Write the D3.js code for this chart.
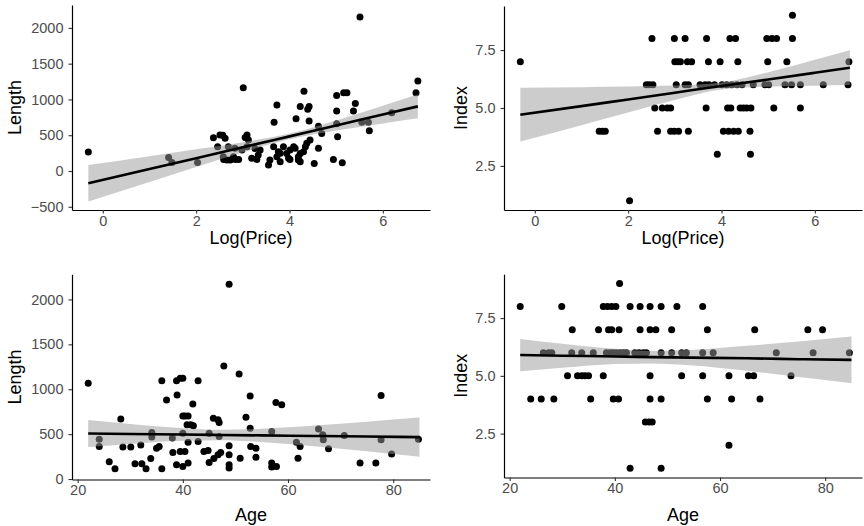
<!DOCTYPE html>
<html>
<head lang="en">
<meta charset="UTF-8">
<title>Length and Index vs Log(Price) and Age</title>
<script src="https://cdnjs.cloudflare.com/ajax/libs/d3/7.8.5/d3.min.js" charset="utf-8"></script>
<style>
  body { margin: 0; background: white; }
  text { font-family: "Liberation Sans", Arial, sans-serif; }
</style>
</head>
<body>
<div id="chart"></div>
<script>

// ---- data ----
var priceLength = [
  [-0.31,264],[1.41,190],[1.48,120],[2.03,120],[2.37,466],[2.46,338],[2.51,503],[2.57,500],
  [2.62,457],[2.58,200],[2.59,162],[2.66,153],[2.69,340],[2.73,154],[2.8,200],[2.83,317],
  [2.84,162],[2.91,162],[2.98,292],[3.01,1162],[3.05,468],[3.09,503],[3.12,433],[3.09,338],
  [3.19,178],[3.3,162],[3.26,315],[3.33,224],[3.37,293],[3.55,84],[3.58,154],[3.66,340],
  [3.67,681],[3.73,923],[3.73,200],[3.76,269],[3.8,247],[3.8,130],[3.87,338],[3.94,245],
  [3.98,178],[4.01,293],[4.01,162],[4.09,338],[4.12,317],[4.14,731],[4.19,200],[4.19,153],
  [4.23,130],[4.23,245],[4.23,903],[4.3,270],[4.31,1116],[4.34,338],[4.37,387],[4.39,862],
  [4.42,903],[4.42,699],[4.44,433],[4.53,106],[4.62,625],[4.62,317],[4.69,523],[4.94,162],
  [5.01,1055],[5.01,838],[5.03,477],[5.01,660],[5.13,116],[5.16,1093],[5.23,1093],[5.37,838],
  [5.41,945],[5.51,2153],[5.55,680],[5.69,680],[5.71,563],[6.19,814],[6.71,1093],[6.75,1257]
];

var priceIndex = [
  [5.52,9],
  [2.51,8],[2.99,8],[3.22,8],[3.68,8],[4.18,8],[4.3,8],[4.97,8],[5.08,8],[5.18,8],[5.52,8],
  [-0.31,7],[3.0,7],[3.06,7],[3.12,7],[3.27,7],[3.36,7],[3.72,7],[3.97,7],[4.35,7],[4.99,7],[5.4,7],[6.73,7],
  [2.39,6],[2.45,6],[2.53,6],[3.03,6],[3.22,6],[3.29,6],[3.54,6],[3.65,6],[3.73,6],[3.85,6],[4.01,6],
  [4.11,6],[4.22,6],[4.33,6],[4.44,6],[4.68,6],[4.93,6],[5.01,6],[5.36,6],[5.5,6],[5.69,6],[6.18,6],[6.71,6],
  [2.57,5],[2.73,5],[2.84,5],[2.91,5],[3.67,5],[4.13,5],[4.2,5],[4.4,5],[4.47,5],[4.54,5],[4.63,5],[5.12,5],[5.69,5],
  [1.38,4],[1.45,4],[1.51,4],[2.63,4],[2.91,4],[2.99,4],[3.08,4],[3.29,4],[4.04,4],[4.15,4],[4.26,4],[4.36,4],[4.61,4],
  [3.91,3],[4.62,3],
  [2.03,1]
];

var ageLength = [
  [22.0,1067],[24.1,444],[24.1,363],[26.0,193],[27.1,115],[28.2,670],[28.6,356],[30.1,356],
  [30.9,170],[32.0,378],[32.2,170],[33.0,115],[33.9,230],[34.1,519],[34.1,467],[35.0,344],
  [35.5,363],[36.0,115],[36.0,1096],[36.9,881],[38.0,456],[38.1,296],[38.8,1096],[38.9,937],
  [38.8,159],[39.5,1122],[39.5,307],[40.0,1122],[40.0,703],[40.4,703],[41.0,703],[40.0,511],
  [40.0,141],[40.4,307],[40.8,604],[41.5,604],[42.0,593],[41.0,411],[41.0,178],[41.9,837],
  [42.9,1096],[42.9,419],[44.0,307],[44.8,319],[45.0,511],[45.0,185],[45.9,230],[45.8,678],
  [46.7,659],[46.9,630],[46.9,474],[46.7,270],[47.2,296],[47.8,1259],[48.8,2170],[48.8,370],
  [48.8,270],[48.8,159],[48.8,122],[50.9,233],[50.7,1170],[52.0,689],[52.8,926],[52.8,567],
  [52.9,363],[53.9,344],[53.9,244],[56.9,530],[56.9,178],[56.9,133],[57.7,852],[58.8,826],
  [57.8,141],[61.6,411],[61.9,233],[62.3,363],[65.8,556],[66.6,493],[66.7,437],[67.7,337],
  [70.7,485],[73.7,178],[76.7,178],[77.7,930],[77.7,437],[79.7,278],[84.8,444]
];

var ageIndex = [
  [40.9,9],
  [22.0,8],[29.9,8],[37.8,8],[38.6,8],[39.4,8],[40.2,8],[42.9,8],[44.8,8],[46.7,8],[48.8,8],[51.8,8],[56.7,8],
  [31.9,7],[36.9,7],[38.8,7],[39.4,7],[40.8,7],[44.8,7],[46.7,7],[47.8,7],[50.8,7],[57.6,7],[66.6,7],[76.7,7],[79.5,7],
  [26.4,6],[27.4,6],[28.0,6],[31.8,6],[33.7,6],[35.9,6],[38.4,6],[39.1,6],[39.7,6],[40.3,6],[41.0,6],[41.6,6],
  [42.2,6],[43.8,6],[44.6,6],[45.4,6],[46.0,6],[48.8,6],[50.8,6],[52.7,6],[53.6,6],[56.7,6],[58.7,6],[70.7,6],[77.7,6],[84.6,6],
  [31.0,5],[32.9,5],[33.7,5],[34.3,5],[35.0,5],[37.8,5],[46.7,5],[52.7,5],[56.7,5],[61.7,5],[65.4,5],[66.4,5],[73.5,5],
  [24.0,4],[26.0,4],[28.4,4],[35.4,4],[39.7,4],[40.7,4],[46.7,4],[48.8,4],[57.6,4],[62.2,4],[67.6,4],
  [45.8,3],[46.5,3],[47.1,3],
  [61.7,2],
  [42.9,1],[48.8,1]
];

// fitted line and confidence band, read at a few x positions
var fitPriceX       = [-0.31, 1, 2, 3, 4, 5, 6, 6.75];
var fitPriceLenMid  = [-171, 27, 179, 332, 484, 636, 789, 903];
var fitPriceLenLo   = [-426, -152, 55, 261, 444, 565, 665, 737];
var fitPriceLenHi   = [84, 206, 303, 403, 524, 707, 913, 1069];
var fitPriceIdxMid  = [4.71, 5.08, 5.37, 5.66, 5.95, 6.23, 6.52, 6.74];
var fitPriceIdxLo   = [3.55, 4.26, 4.81, 5.35, 5.80, 5.92, 5.96, 5.99];
var fitPriceIdxHi   = [5.87, 5.90, 5.93, 5.97, 6.10, 6.54, 7.08, 7.49];

var fitAgeX         = [22, 30, 40, 47, 55, 65, 75, 85];
var fitAgeLenMid    = [507, 502, 496, 491, 486, 480, 474, 467];
var fitAgeLenLo     = [357, 391, 426, 433, 413, 365, 309, 249];
var fitAgeLenHi     = [657, 613, 566, 549, 559, 595, 639, 685];
var fitAgeIdxMid    = [5.90, 5.87, 5.84, 5.81, 5.79, 5.76, 5.72, 5.69];
var fitAgeIdxLo     = [5.20, 5.35, 5.51, 5.54, 5.45, 5.22, 4.95, 4.68];
var fitAgeIdxHi     = [6.60, 6.39, 6.17, 6.08, 6.13, 6.30, 6.49, 6.70];

var priceTicks   = [0, 2, 4, 6];
var ageTicks     = [20, 40, 60, 80];
var lengthTicks1 = [-500, 0, 500, 1000, 1500, 2000];
var lengthTicks2 = [0, 500, 1000, 1500, 2000];
var indexTicks   = [2.5, 5.0, 7.5];

// ---- drawing ----
var svg = d3.select('#chart').append('svg')
    .attr('width', 864).attr('height', 526);

function panel(o) {
    var x = d3.scaleLinear().domain(o.xDomain).range(o.xRange);
    var y = d3.scaleLinear().domain(o.yDomain).range(o.yRange);
    var g = svg.append('g');

    g.selectAll('circle').data(o.points).enter().append('circle')
        .attr('cx', function(d) { return x(d[0]); })
        .attr('cy', function(d) { return y(d[1]); })
        .attr('r', 3.5)
        .attr('fill', '#000');

    var band = o.fitX.map(function(v, i) { return [v, o.lo[i], o.hi[i], o.mid[i]]; });
    g.append('path').datum(band)
        .attr('d', d3.area().curve(d3.curveMonotoneX)
            .x(function(d) { return x(d[0]); })
            .y0(function(d) { return y(d[1]); })
            .y1(function(d) { return y(d[2]); }))
        .attr('fill', '#999').attr('fill-opacity', 0.5);
    g.append('path').datum(band)
        .attr('d', d3.line().curve(d3.curveMonotoneX)
            .x(function(d) { return x(d[0]); })
            .y(function(d) { return y(d[3]); }))
        .attr('fill', 'none').attr('stroke', '#000').attr('stroke-width', 2.6);

    var ax = g.append('g').attr('transform', 'translate(0,' + o.yRange[0] + ')')
        .call(d3.axisBottom(x).tickValues(o.xTicks).tickSize(3.5).tickSizeOuter(0).tickPadding(1.8));
    var ay = g.append('g').attr('transform', 'translate(' + o.xRange[0] + ',0)')
        .call(d3.axisLeft(y).tickValues(o.yTicks).tickFormat(o.yFormat).tickSize(3.5).tickSizeOuter(0).tickPadding(5));
    [ax, ay].forEach(function(a) {
        a.attr('font-size', 14.5).attr('font-family', '"Liberation Sans", Arial, sans-serif');
        a.select('.domain').attr('stroke', '#000').attr('stroke-width', 1.2);
        a.selectAll('.tick line').attr('stroke', '#333').attr('stroke-width', 1.1);
        a.selectAll('.tick text').attr('fill', '#4d4d4d');
    });

    g.append('text')
        .attr('x', (o.xRange[0] + o.xRange[1]) / 2).attr('y', o.xTitleY)
        .attr('text-anchor', 'middle').attr('font-size', 18).attr('fill', '#000')
        .text(o.xTitle);
    g.append('text')
        .attr('transform', 'translate(' + o.yTitleX + ',' + (o.yRange[0] + o.yRange[1]) / 2 + ') rotate(-90)')
        .attr('text-anchor', 'middle').attr('font-size', 18).attr('fill', '#000')
        .text(o.yTitle);
}

var fmtInt = d3.format('d'), fmtIdx = d3.format('.1f');

panel({ points: priceLength, xDomain: [-0.66, 7.01], xRange: [72, 430],
        yDomain: [-545, 2320], yRange: [210, 5],
        xTicks: priceTicks, yTicks: lengthTicks1, yFormat: fmtInt,
        fitX: fitPriceX, mid: fitPriceLenMid, lo: fitPriceLenLo, hi: fitPriceLenHi,
        xTitle: 'Log(Price)', xTitleY: 244, yTitle: 'Length', yTitleX: 21 });

panel({ points: priceIndex, xDomain: [-0.66, 7.01], xRange: [504, 862],
        yDomain: [0.6, 9.4], yRange: [210, 6],
        xTicks: priceTicks, yTicks: indexTicks, yFormat: fmtIdx,
        fitX: fitPriceX, mid: fitPriceIdxMid, lo: fitPriceIdxLo, hi: fitPriceIdxHi,
        xTitle: 'Log(Price)', xTitleY: 244, yTitle: 'Index', yTitleX: 467 });

panel({ points: ageLength, xDomain: [18.92, 87.0], xRange: [72, 430],
        yDomain: [-5, 2280], yRange: [479.5, 274.3],
        xTicks: ageTicks, yTicks: lengthTicks2, yFormat: fmtInt,
        fitX: fitAgeX, mid: fitAgeLenMid, lo: fitAgeLenLo, hi: fitAgeLenHi,
        xTitle: 'Age', xTitleY: 521, yTitle: 'Length', yTitleX: 21 });

panel({ points: ageIndex, xDomain: [18.92, 87.0], xRange: [504, 862],
        yDomain: [0.6, 9.4], yRange: [477.5, 274.2],
        xTicks: ageTicks, yTicks: indexTicks, yFormat: fmtIdx,
        fitX: fitAgeX, mid: fitAgeIdxMid, lo: fitAgeIdxLo, hi: fitAgeIdxHi,
        xTitle: 'Age', xTitleY: 521, yTitle: 'Index', yTitleX: 467 });

</script>
</body>
</html>
